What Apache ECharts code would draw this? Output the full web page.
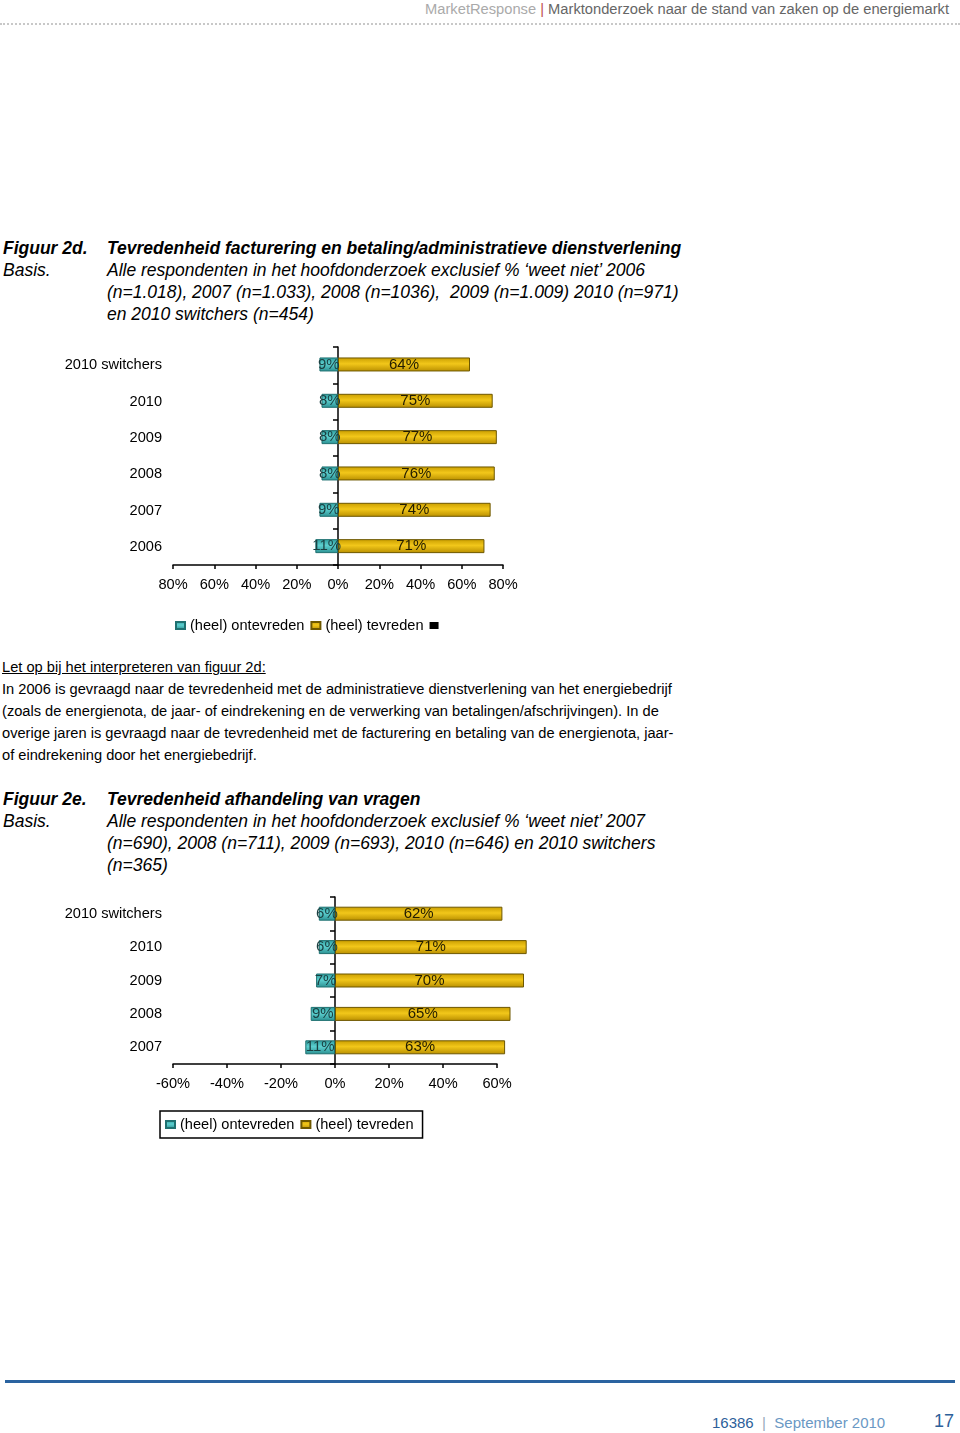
<!DOCTYPE html>
<html><head><meta charset="utf-8">
<script src="https://cdn.jsdelivr.net/npm/echarts@6/dist/echarts.min.js"></script>
<style>
html,body{margin:0;padding:0;background:#fff;}
body{width:960px;height:1433px;position:relative;overflow:hidden;font-family:"Liberation Sans",Arial,sans-serif;color:#000;}
.abs{position:absolute;white-space:nowrap;}
.hdr{right:11px;top:1px;font-size:14.7px;color:#666;}
.hdr .mr{color:#aaa}.hdr .bar{color:#c0504d}
.dots{left:0;top:23px;width:960px;border-top:2px dotted #c8c8c8;}
.fig{font-size:17.5px;font-style:italic;line-height:22px;}
.fig b{font-weight:bold}
.note{font-size:14.65px;line-height:22px;left:2px;}
.foot{left:5px;top:1380px;width:950px;border-top:3px solid #2a63a0;}
.f1{left:712px;top:1414px;font-size:15px;color:#2d5f9a}
.f1 .s{color:#6a98c4}.f1 .p{color:#9ab;}
.f2{left:934px;top:1411px;font-size:18px;color:#2d5f9a}
</style></head><body>
<div class="abs hdr"><span class="mr">MarketResponse</span> <span class="bar">|</span> Marktonderzoek naar de stand van zaken op de energiemarkt</div>
<div class="abs dots"></div>

<div class="abs fig" style="left:3px;top:237px;"><b>Figuur 2d.</b><br>Basis.</div>
<div class="abs fig" style="left:107px;top:237px;"><b>Tevredenheid facturering en betaling/administratieve dienstverlening</b><br>Alle respondenten in het hoofdonderzoek exclusief % ‘weet niet’ 2006<br>(n=1.018), 2007 (n=1.033), 2008 (n=1036),&nbsp; 2009 (n=1.009) 2010 (n=971)<br>en 2010 switchers (n=454)</div>

<div id="c1" class="abs" style="left:0;top:330px;width:560px;height:310px;"></div>

<div class="abs note" style="top:656px;"><u>Let op bij het interpreteren van figuur 2d:</u><br>In 2006 is gevraagd naar de tevredenheid met de administratieve dienstverlening van het energiebedrijf<br>(zoals de energienota, de jaar- of eindrekening en de verwerking van betalingen/afschrijvingen). In de<br>overige jaren is gevraagd naar de tevredenheid met de facturering en betaling van de energienota, jaar-<br>of eindrekening door het energiebedrijf.</div>

<div class="abs fig" style="left:3px;top:788px;"><b>Figuur 2e.</b><br>Basis.</div>
<div class="abs fig" style="left:107px;top:788px;"><b>Tevredenheid afhandeling van vragen</b><br>Alle respondenten in het hoofdonderzoek exclusief % ‘weet niet’ 2007<br>(n=690), 2008 (n=711), 2009 (n=693), 2010 (n=646) en 2010 switchers<br>(n=365)</div>

<div id="c2" class="abs" style="left:0;top:880px;width:560px;height:280px;"></div>

<div class="abs foot"></div>
<div class="abs f1">16386 <span class="p">&nbsp;|&nbsp;</span> <span class="s">September 2010</span></div>
<div class="abs f2">17</div>

<script>
// Figure 2d data
var cats1 = ['2010 switchers', '2010', '2009', '2008', '2007', '2006'];
var onte1 = [9, 8, 8, 8, 9, 11];
var tevr1 = [64, 75, 77, 76, 74, 71];
var ticks1 = [-80, -60, -40, -20, 0, 20, 40, 60, 80];
// Figure 2e data
var cats2 = ['2010 switchers', '2010', '2009', '2008', '2007'];
var onte2 = [6, 6, 7, 9, 11];
var tevr2 = [62, 71, 70, 65, 63];
var ticks2 = [-60, -40, -20, 0, 20, 40, 60];
var names = ['(heel) ontevreden', '(heel) tevreden'];

var FONT = '"Liberation Sans", Arial, sans-serif';
var FS = 14.6;
function grad(c1, c2, c3) {
  return new echarts.graphic.LinearGradient(0, 0, 0, 1, [
    {offset: 0, color: c1}, {offset: 0.45, color: c2}, {offset: 1, color: c3}]);
}
var tealFill = grad('#2f9c9c', '#5ccfcf', '#2a8f90');
var goldFill = grad('#c99d00', '#f2c71a', '#b88e00');

function build(cats, onte, tevr, min, max, absLabels, gridPx, legendCfg) {
  gridPx.containLabel = false;
  gridPx.outerBoundsMode = 'none';
  return {
    animation: false,
    textStyle: {fontFamily: FONT},
    grid: gridPx,
    legend: legendCfg,
    xAxis: {
      type: 'value', min: min, max: max, interval: 20,
      axisLine: {show: true, lineStyle: {color: '#000', width: 1.5}},
      axisTick: {show: true, length: 4, lineStyle: {color: '#000', width: 1.5}},
      splitLine: {show: false},
      axisLabel: {color: '#000', fontSize: FS, fontFamily: FONT, margin: 12,
        formatter: function (v) { return (absLabels ? Math.abs(v) : v) + '%'; }}
    },
    yAxis: [{
      type: 'category', data: cats, inverse: true,
      axisLine: {show: true, onZero: true, lineStyle: {color: '#000', width: 1.5}},
      axisTick: {show: true, length: 5, alignWithLabel: false, lineStyle: {color: '#000', width: 1.5}},
      axisLabel: {show: false}
    }, {
      type: 'category', data: cats, inverse: true, position: 'left',
      axisLine: {show: false, onZero: false},
      axisTick: {show: false},
      splitLine: {show: false},
      axisLabel: {show: true, color: '#000', fontSize: FS, fontFamily: FONT, margin: 11}
    }],
    series: [
      {name: names[0], type: 'bar', stack: 't', barWidth: 14, clip: false,
       data: onte.map(function (v) { return -v; }),
       itemStyle: {color: tealFill, borderColor: '#1f7070', borderWidth: 1},
       label: {show: true, position: 'inside', color: '#1a3f40', fontSize: 15, fontFamily: FONT,
         formatter: function (p) { return Math.abs(p.value) + '%'; }}},
      {name: names[1], type: 'bar', stack: 't', barWidth: 14, clip: false,
       data: tevr,
       itemStyle: {color: goldFill, borderColor: '#6e5800', borderWidth: 1},
       label: {show: true, position: 'inside', color: '#221c00', fontSize: 15, fontFamily: FONT,
         formatter: function (p) { return p.value + '%'; }}}
    ]
  };
}

var c1 = echarts.init(document.getElementById('c1'));
var opt1 = build(cats1, onte1, tevr1, ticks1[0], ticks1[ticks1.length - 1], true,
  {left: 173, right: 57, top: 17, bottom: 75},
  {left: 170, top: 283, itemWidth: 9, itemHeight: 7, itemGap: 6, icon: 'rect',
   textStyle: {fontSize: FS, color: '#000', fontFamily: FONT},
   data: [names[0], names[1], {name: ' ', itemStyle: {color: '#000'}}]});
opt1.series.push({name: ' ', type: 'bar', data: [], itemStyle: {color: '#000'}});
c1.setOption(opt1);

var c2 = echarts.init(document.getElementById('c2'));
var opt2 = build(cats2, onte2, tevr2, ticks2[0], ticks2[ticks2.length - 1], false,
  {left: 173, right: 63, top: 17, bottom: 96},
  {left: 160, top: 231, itemWidth: 9, itemHeight: 7, itemGap: 6, icon: 'rect',
   padding: [6, 9, 6, 5], borderColor: '#000', borderWidth: 1.5,
   textStyle: {fontSize: FS, color: '#000', fontFamily: FONT},
   data: names});
c2.setOption(opt2);
</script>
</body></html>
